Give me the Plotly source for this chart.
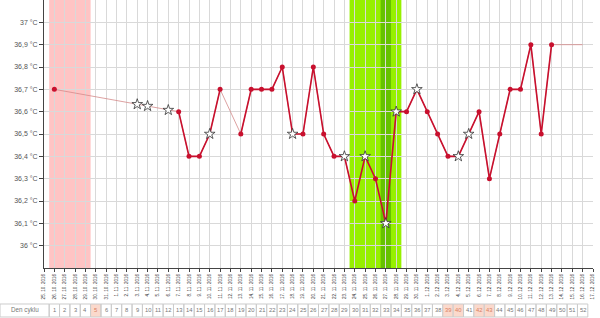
import pandas as pd
import plotly.graph_objects as go

# ---- data ----
dates = [f"{d.day}. {d.month}. {d.year}" for d in pd.date_range("2016-10-25", "2016-12-17")]

# measured temperatures per date (None = no measurement)
temps = [None, 36.7, None, None, None, None, None, None, None, None, None, None, None,
         36.6, 36.4, 36.4, 36.5, 36.7, None, 36.5, 36.7, 36.7, 36.7, 36.8, 36.5, 36.5,
         36.8, 36.5, 36.4, 36.4, 36.2, 36.4, 36.3, 36.1, 36.6, 36.6, 36.7, 36.6, 36.5,
         36.4, 36.4, 36.5, 36.6, 36.3, 36.5, 36.7, 36.7, 36.9, 36.5, 36.9, None, None,
         None, None]
# disturbed measurements (star markers) - index in dates
disturbed_idx = [16, 24, 29, 31, 33, 34, 36, 40, 41]
# excluded disturbed measurements shown on the interpolation line
excluded_idx = [9, 10, 12]
excluded_vals = [36.633, 36.625, 36.607]
# projected line after last measurement
projection_idx = [49, 50, 51, 52]
projection_vals = [36.9, 36.9, 36.9, 36.9]

cycle_days = list(range(1, 53))          # day 1 = 26. 10. 2016
cycle_start_idx = 1
highlight_days = [5, 39, 40, 42, 43]
menses_days = [1, 4]                     # pink band
fertile_days = [30, 34]                  # green band
ovulation_day = 33                       # darker strip

yticks = [36.0, 36.1, 36.2, 36.3, 36.4, 36.5, 36.6, 36.7, 36.8, 36.9, 37.0]
ytext = [("%g" % v).replace(".", ",") + " °C" for v in yticks]

RED = "#c8102e"
THIN = "#d48a8a"

fig = go.Figure()

# thin connecting line (across gaps)
thin_x = [i for i, v in enumerate(temps) if v is not None]
thin_y = [v for v in temps if v is not None]
fig.add_trace(go.Scatter(x=thin_x, y=thin_y, mode="lines",
                         line=dict(color=THIN, width=0.8), hoverinfo="skip"))
fig.add_trace(go.Scatter(x=projection_idx, y=projection_vals, mode="lines",
                         line=dict(color=THIN, width=0.8), hoverinfo="skip"))
# thick line between consecutive days
fig.add_trace(go.Scatter(x=list(range(len(dates))), y=temps, mode="lines", connectgaps=False,
                         line=dict(color=RED, width=1.6)))
# dots
dot_x = [i for i, v in enumerate(temps) if v is not None and i not in disturbed_idx]
dot_y = [v for i, v in enumerate(temps) if v is not None and i not in disturbed_idx]
fig.add_trace(go.Scatter(x=dot_x, y=dot_y, mode="markers",
                         marker=dict(color=RED, size=5, symbol="circle")))
# stars
star_x = disturbed_idx + excluded_idx
star_y = [temps[i] for i in disturbed_idx] + excluded_vals
fig.add_trace(go.Scatter(x=star_x, y=star_y, mode="markers",
                         marker=dict(color="white", size=8, symbol="star",
                                     line=dict(color="#333333", width=0.8))))

shapes = []
# bands
shapes.append(dict(type="rect", xref="x", yref="paper", layer="below",
                   x0=cycle_start_idx + menses_days[0] - 1 - 0.5,
                   x1=cycle_start_idx + menses_days[1] - 1 + 0.5,
                   y0=0, y1=1, fillcolor="#ffc4c4", line=dict(width=0)))
shapes.append(dict(type="rect", xref="x", yref="paper", layer="below",
                   x0=cycle_start_idx + fertile_days[0] - 1 - 0.5,
                   x1=cycle_start_idx + fertile_days[1] - 1 + 0.5,
                   y0=0, y1=1, fillcolor="#96f000", line=dict(width=0)))
shapes.append(dict(type="rect", xref="x", yref="paper", layer="below",
                   x0=cycle_start_idx + ovulation_day - 1 - 0.5,
                   x1=cycle_start_idx + ovulation_day - 1 + 0.5,
                   y0=0, y1=1, fillcolor="#66c200", line=dict(width=0)))

# cycle-day table
ty0, ty1 = -0.1828, -0.1343
ymid = (ty0 + ty1) / 2
n = len(dates) - 1
annotations = []
shapes.append(dict(type="rect", xref="paper", yref="paper", x0=-0.0801,
                   x1=(cycle_start_idx - 0.5) / n,
                   y0=ty0, y1=ty1, line=dict(color="#cccccc", width=1),
                   fillcolor="rgba(0,0,0,0)", layer="below"))
annotations.append(dict(x=(-0.0801 + (cycle_start_idx - 0.5) / n) / 2, y=ymid,
                        xref="paper", yref="paper", text="Den cyklu", borderpad=0,
                        xanchor="center", yanchor="middle",
                        showarrow=False, font=dict(size=6.3, color="#777777",
                                                   family="Liberation Sans")))
for d in cycle_days:
    i = cycle_start_idx + d - 1
    hl = d in highlight_days
    shapes.append(dict(type="rect", xref="x", yref="paper", x0=i - 0.5, x1=i + 0.5,
                       y0=ty0, y1=ty1, line=dict(color="#cccccc", width=1),
                       fillcolor="#fbd9cc" if hl else "rgba(0,0,0,0)", layer="below"))
    annotations.append(dict(x=i, y=ymid, xref="x", yref="paper", text=str(d),
                            showarrow=False, borderpad=0,
                            xanchor="center", yanchor="middle",
                            font=dict(size=5.8, color="#d9805f" if hl else "#777777",
                                      family="Liberation Sans")))

fig.update_layout(
    width=600, height=318,
    margin=dict(l=44, r=7, t=0, b=50),
    paper_bgcolor="white", plot_bgcolor="white",
    showlegend=False,
    shapes=shapes, annotations=annotations,
    font=dict(family="Liberation Sans"),
)
fig.update_xaxes(range=[0, n], tickangle=-90, automargin=False,
                 tickvals=list(range(len(dates))), ticktext=dates,
                 tickfont=dict(size=4.6, color="#333333"),
                 showgrid=True, gridcolor="#d9d9d9", gridwidth=1,
                 showline=True, linecolor="#444444", linewidth=1,
                 ticks="outside", ticklen=3, tickcolor="#444444", zeroline=False)
fig.update_yaxes(range=[35.9, 37.1], tickvals=yticks, ticktext=ytext, automargin=False,
                 tickfont=dict(size=7, color="#555555"),
                 showgrid=True, gridcolor="#d9d9d9", gridwidth=1,
                 showline=True, linecolor="#444444", linewidth=1,
                 ticks="outside", ticklen=4, tickcolor="#444444", zeroline=False)

fig.write_html("out.html")
